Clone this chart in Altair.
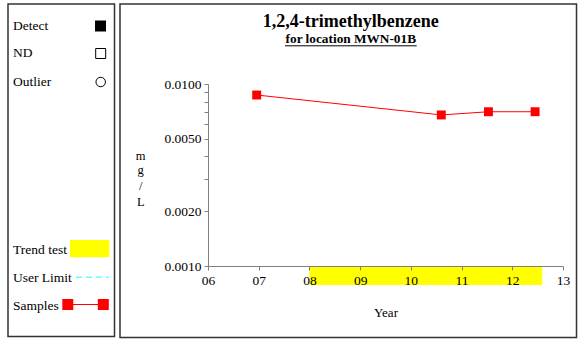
import altair as alt
import pandas as pd

FONT = "Liberation Serif"

# ---- data ----
sample_year = [2006.96, 2010.60, 2011.53, 2012.45]
sample_conc = [0.0087, 0.00676, 0.00704, 0.00704]
trend_start = [2008.0]
trend_end = [2012.59]
x_ticks = [2006 + 0.5 * i for i in range(15)]
y_ticks = [0.001, 0.002, 0.003, 0.004, 0.005, 0.006, 0.007, 0.008, 0.009, 0.01]
title_text = "1,2,4-trimethylbenzene"
subtitle_text = "for location MWN-01B"
y_title_letters = ["m", "g", "/", "L"]

samples = pd.DataFrame({"year": sample_year, "conc": sample_conc})
trend = pd.DataFrame({"start": trend_start, "end": trend_end})
one = pd.DataFrame({"_": [0]})

xscale = alt.Scale(domain=[2006, 2013], nice=False, zero=False)
yscale = alt.Scale(type="log", domain=[0.001, 0.01], nice=False)

x_axis = alt.Axis(
    values=x_ticks,
    labelExpr="datum.value % 1 == 0 ? format(datum.value % 100, '02d') : ''",
    title=None, grid=False, tickSize=4, labelPadding=3, labelFlush=False,
    labelOverlap=False, domainColor="#808080", tickColor="#808080",
    labelFont=FONT, labelFontSize=13.5, labelColor="black", zindex=1,
)
y_axis = alt.Axis(
    values=y_ticks,
    labelExpr="indexof(['0.0010','0.0020','0.0050','0.0100'], format(datum.value,'.4f')) >= 0 ? format(datum.value,'.4f') : ''",
    title=None, grid=False, tickSize=4, labelPadding=3, labelOverlap=False,
    domainColor="#808080", tickColor="#808080", labelFlush=False,
    labelFont=FONT, labelFontSize=13.5, labelColor="black", zindex=1,
)

band = alt.Chart(trend).mark_rect(color="#ffff00").encode(
    x=alt.X("start:Q", scale=xscale, axis=x_axis),
    x2="end:Q",
    y=alt.value(182), y2=alt.value(201),
)

line = alt.Chart(samples).mark_line(color="#ff0000", strokeWidth=1).encode(
    x=alt.X("year:Q", scale=xscale, axis=x_axis),
    y=alt.Y("conc:Q", scale=yscale, axis=y_axis),
)
pts = alt.Chart(samples).mark_point(shape="square", filled=True, color="#ff0000", size=80, opacity=1).encode(
    x=alt.X("year:Q", scale=xscale),
    y=alt.Y("conc:Q", scale=yscale),
)


def txt(s, x, y, size=13.5, weight="normal", align="left"):
    return alt.Chart(one).mark_text(
        text=s, font=FONT, fontSize=size, fontWeight=weight, align=align,
        baseline="alphabetic", color="black",
    ).encode(x=alt.value(x), y=alt.value(y))


def box(x1, y1, x2, y2):
    return alt.Chart(one).mark_rect(fillOpacity=0, stroke="#333333", strokeWidth=1.5).encode(
        x=alt.value(x1), x2=alt.value(x2), y=alt.value(y1), y2=alt.value(y2)
    )


def sym(shape, x, y, size, fill, stroke):
    kw = dict(shape=shape, size=size, strokeWidth=1, opacity=1)
    if fill:
        m = alt.Chart(one).mark_point(filled=True, color=fill, **kw)
    else:
        m = alt.Chart(one).mark_point(filled=False, color=stroke, **kw)
    return m.encode(x=alt.value(x), y=alt.value(y))


def seg(x1, x2, y, color, dash=None, width=1):
    kw = dict(color=color, strokeWidth=width)
    if dash:
        kw["strokeDash"] = dash
    return alt.Chart(one).mark_rule(**kw).encode(
        x=alt.value(x1), x2=alt.value(x2), y=alt.value(y)
    )


deco = [
    box(-200, -80, -93.5, 252.5),
    box(-88, -80, 368.5, 253.5),
    # titles
    txt(title_text, 142.8, -56.7, size=18, weight="bold", align="center"),
    txt(subtitle_text, 142.8, -40.7, size=13.3, weight="bold", align="center"),
    seg(77, 208.7, -38.2, "black"),
    txt("Year", 178, 232.5, size=13, align="center"),
    # legend
    txt("Detect", -195, -54),
    sym("square", -107.5, -58, 121, "black", None),
    txt("ND", -195, -27.3),
    sym("square", -107.3, -30.5, 100, None, "black"),
    txt("Outlier", -195, 2),
    sym("circle", -107.3, -2, 90, None, "black"),
    txt("Trend test", -195, 170.3),
    alt.Chart(one).mark_rect(color="#ffff00").encode(
        x=alt.value(-138), x2=alt.value(-98.7), y=alt.value(156), y2=alt.value(173.3)
    ),
    txt("User Limit", -195, 198.3),
    seg(-132, -99, 193.3, "#66ffff", dash=[6, 4], width=1.5),
    txt("Samples", -195, 226),
    seg(-140, -104.7, 220.5, "#ff0000"),
    sym("square", -140.2, 220.5, 121, "#ff0000", None),
    sym("square", -104.7, 220.5, 121, "#ff0000", None),
]
y_baselines = [76, 89.5, 106, 122]
for letter, yb in zip(y_title_letters, y_baselines):
    deco.append(txt(letter, -67.3, yb, size=12.5, align="center"))

chart = alt.layer(band, line, pts, *deco).properties(
    width=355, height=182,
    padding={"left": 208, "top": 84, "right": 15, "bottom": 73},
    autosize=alt.AutoSizeParams(type="none"),
    background="white",
).configure_view(stroke=None)

chart.save("out.html", embed_options={"renderer": "svg", "actions": False})
